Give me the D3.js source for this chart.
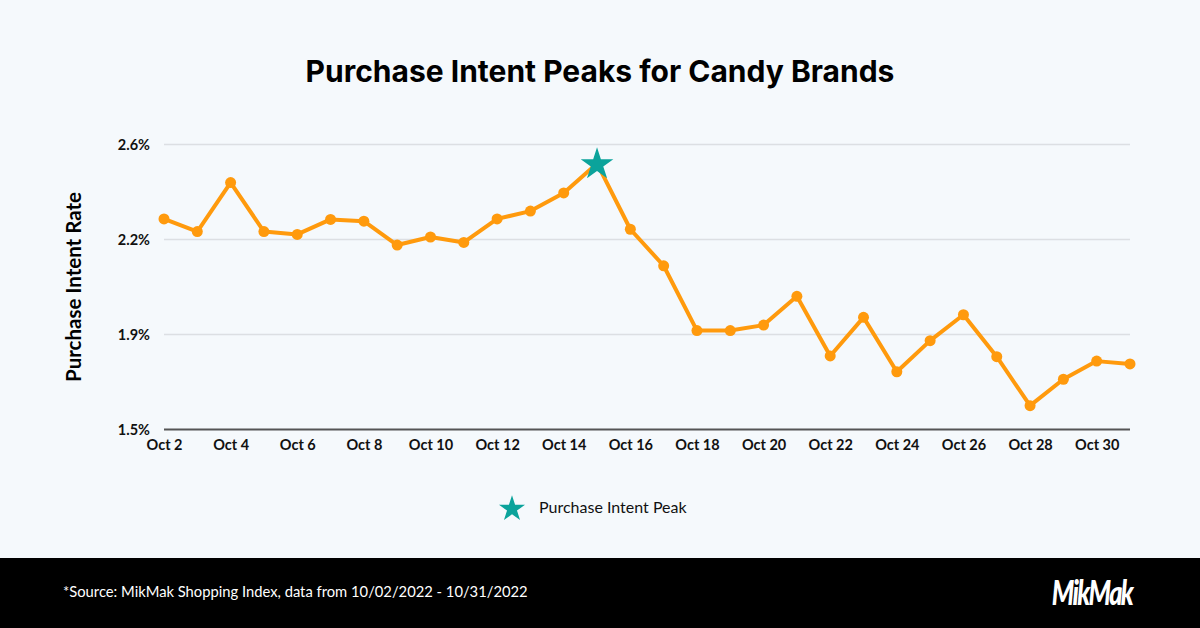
<!DOCTYPE html>
<html><head><meta charset="utf-8">
<script src="https://cdn.jsdelivr.net/npm/d3@7"></script>
<style>html,body{margin:0;padding:0;background:#F5F9FC;}svg{display:block;}</style>
</head><body>
<svg id="c" width="1200" height="628"></svg>
<script>
const days = d3.range(2, 32);
const categories = days.map(d => "Oct " + d);
const values = [2.311, 2.262, 2.451, 2.262, 2.251, 2.309, 2.302, 2.210, 2.241, 2.220,
  2.311, 2.341, 2.411, 2.525, 2.271, 2.130, 1.880, 1.880, 1.901, 2.012,
  1.782, 1.931, 1.721, 1.841, 1.941, 1.779, 1.590, 1.692, 1.762, 1.751];
const peakIndex = 13;
const yTicks = [1.5, 1.5 + 1.1/3, 1.5 + 2.2/3, 2.6];
const xTickLabels = categories.filter((c, i) => i % 2 === 0);

const svg = d3.select("#c");
svg.append("rect").attr("width", 1200).attr("height", 628).attr("fill", "#F5F9FC");

const x = d3.scalePoint().domain(categories).range([164, 1130]);
const y = d3.scaleLinear().domain([1.5, 2.6]).range([429, 144]);

svg.append("text").attr("x", 600).attr("y", 82).attr("text-anchor", "middle")
  .attr("font-family", "Inter").attr("font-weight", 700).attr("font-size", 30)
  .attr("letter-spacing", 0)
  .attr("fill", "#000").text("Purchase Intent Peaks for Candy Brands");

// grid
const grid = svg.append("g")
  .call(d3.axisLeft(y).tickValues(yTicks).tickSize(-(1130 - 164)).tickFormat(d => d.toFixed(1) + "%"))
  .attr("transform", "translate(164,0)");
grid.select(".domain").remove();
grid.selectAll(".tick line").attr("stroke", "#DCDFE3").attr("stroke-width", 1.5);
grid.selectAll(".tick text").attr("x", -14).attr("dy", "0.35em")
  .attr("font-family", "Lato").attr("font-weight", 700).attr("font-size", 14.5).attr("fill", "#111");
grid.selectAll(".tick").filter(d => d === 1.5).select("line").attr("stroke", "#555").attr("stroke-width", 2);

// x axis
const xa = svg.append("g").attr("transform", "translate(0,429)")
  .call(d3.axisBottom(x).tickValues(xTickLabels).tickSize(0).tickPadding(11));
xa.select(".domain").remove();
xa.selectAll(".tick text").attr("font-family", "Lato").attr("font-weight", 700)
  .attr("font-size", 14.5).attr("fill", "#111");

svg.append("text").attr("transform", "translate(81,287) rotate(-90)").attr("text-anchor", "middle")
  .attr("font-family", "Lato").attr("font-weight", 700).attr("font-size", 20.5).attr("fill", "#000")
  .text("Purchase Intent Rate");

const line = d3.line().x((d, i) => x(categories[i])).y(d => y(d));
svg.append("path").datum(values).attr("d", line).attr("fill", "none")
  .attr("stroke", "#FF9A0D").attr("stroke-width", 4).attr("stroke-linejoin", "round");
values.forEach((v, i) => {
  if (i === peakIndex) return;
  svg.append("circle").attr("cx", x(categories[i])).attr("cy", y(v)).attr("r", 5.5).attr("fill", "#FF9A0D");
});
svg.append("path").attr("d", d3.symbol(d3.symbolStar, 330)())
  .attr("transform", `translate(${x(categories[peakIndex])},${y(values[peakIndex]) + 1})`)
  .attr("fill", "#0BA39B");

// legend
svg.append("path").attr("d", d3.symbol(d3.symbolStar, 210)())
  .attr("transform", "translate(512,509)").attr("fill", "#0BA39B");
svg.append("text").attr("x", 539).attr("y", 507).attr("dy", "0.35em")
  .attr("font-family", "Lato").attr("font-size", 16).attr("fill", "#111").text("Purchase Intent Peak");

// footer
svg.append("rect").attr("x", 0).attr("y", 558).attr("width", 1200).attr("height", 70).attr("fill", "#000");
svg.append("text").attr("x", 63).attr("y", 592).attr("dy", "0.35em")
  .attr("font-family", "Lato").attr("font-size", 14.75).attr("fill", "#fff")
  .text("*Source: MikMak Shopping Index, data from 10/02/2022 - 10/31/2022");
svg.append("text").attr("x", 1092).attr("y", 593).attr("dy", "0.35em").attr("text-anchor", "middle")
  .attr("font-family", "Lato").attr("font-weight", 900).attr("font-style", "italic")
  .attr("font-size", 30).attr("letter-spacing", -2).attr("fill", "#fff")
  .attr("transform", "translate(1092,593) scale(0.85,1.15) translate(-1092,-593)")
  .text("MikMak");
</script>
</body></html>
